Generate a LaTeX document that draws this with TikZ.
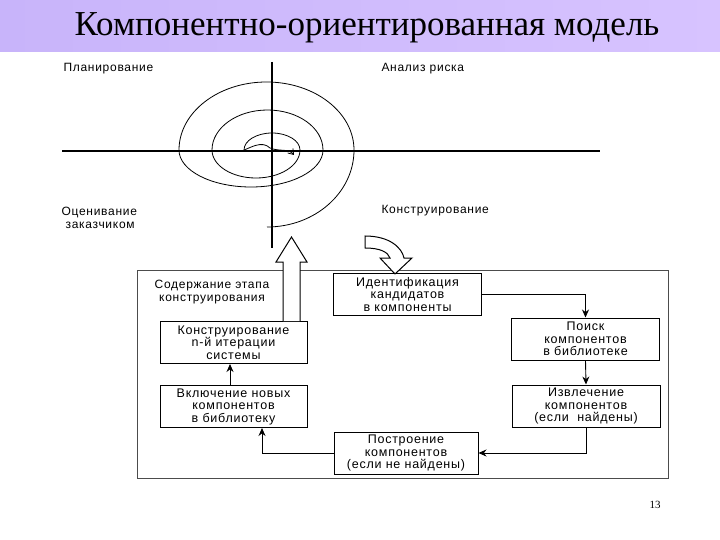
\documentclass[tikz,border=0pt]{standalone}
\usepackage{fontspec}
\setmainfont{Liberation Sans}[LetterSpace=6]
\newfontfamily\titlefont{Liberation Serif}
\begin{document}
\begin{tikzpicture}[x=1pt,y=-1pt,
  bx/.style={draw,line width=1pt,minimum width=148pt,minimum height=42pt,align=center,font=\fontsize{12.5}{12.5}\selectfont,inner sep=1pt},
  lbl/.style={font=\fontsize{12}{12.5}\selectfont,align=left},
  arr/.style={-{Stealth[length=8pt,width=7pt]},line width=0.9pt}]
\usetikzlibrary{arrows.meta}
\useasboundingbox (0,0) rectangle (720,540);
\fill[white] (0,0) rectangle (720,540);
\fill[left color={rgb,255:red,200;green,180;blue,250},right color={rgb,255:red,215;green,195;blue,255}] (0,0) rectangle (720,52);
\node[font=\titlefont\fontsize{35}{36}\selectfont] (title) at (367,28) {Компонентно-ориентированная модель};
% axes
\draw[line width=1.3pt] (272,62) -- (272,248);
\draw[line width=1.2pt] (62,151) -- (600,151);
% spiral
\draw[line width=0.8pt] (267,227) arc[start angle=90,end angle=0,x radius=87,y radius=77]
  arc[start angle=0,end angle=-180,x radius=87.5,y radius=68]
  arc[start angle=180,end angle=0,x radius=72,y radius=37]
  arc[start angle=0,end angle=-180,x radius=55.5,y radius=40]
  arc[start angle=180,end angle=0,x radius=44,y radius=28]
  arc[start angle=0,end angle=-180,x radius=28,y radius=17];
\draw[line width=0.8pt,-{Straight Barb[length=5pt,width=7pt]}] (244,150) .. controls (250,148) and (262,140) .. (270,148) .. controls (280,152) and (288,148) .. (294,155);
\node[lbl,anchor=west] (plan) at (60,69) {Планирование};
\node[lbl,anchor=west] (risk) at (378,69) {Анализ риска};
\node[lbl,anchor=west] (cust) at (58,218) {Оценивание\\\ заказчиком};
\node[lbl,anchor=west] (constr) at (378,211) {Конструирование};
% frame
\draw[line width=0.8pt,gray!60!black] (137,270) rectangle (668,478);
% boxes
\node[bx] (id) at (407.5,294.5) {Идентификация\\кандидатов\\в компоненты};
\node[bx] (search) at (585.5,339) {Поиск\\компонентов\\в библиотеке};
\node[bx] (extr) at (586,406) {Извлечение\\компонентов\\(если\ \ найдены)};
\node[bx,minimum width=144pt] (build) at (406,453) {Построение\\компонентов\\(если не найдены)};
\node[bx,minimum width=147pt] (incl) at (233.5,406.5) {Включение новых\\компонентов\\в библиотеку};
\node[bx,minimum width=147pt] (iter) at (233.5,342.5) {Конструирование\\n-й итерации\\системы};
\node[lbl,align=center] (content) at (212,292) {Содержание этапа\\конструирования};
\draw[arr] (id.east) -| (search.north);
\draw[arr] (search.south) -- (extr.north);
\draw[arr] (extr.south) |- (build.east);
\draw[arr] (build.west) -| (incl.south -| 262,0) coordinate (c1);
\draw[arr] (incl.north -| 230,0) -- (iter.south -| 230,0);
% block arrows
\draw[line width=1pt,fill=white] (283,321) -- (283,262) -- (276,262) -- (291.5,237) -- (307,262) -- (300,262) -- (300,321);
\draw[line width=1pt,fill=white] (365,236) .. controls (390,236) and (402,248) .. (404,258) -- (412,258) -- (395,274) -- (380,258) -- (390,258) .. controls (388,252) and (380,248) .. (365,248) -- cycle;
\node[font=\titlefont\fontsize{11}{12}\selectfont] (pg) at (655,505) {13};
\end{tikzpicture}
\end{document}
